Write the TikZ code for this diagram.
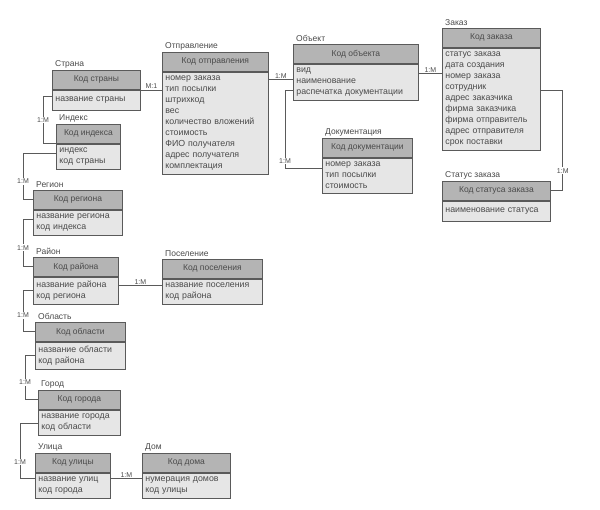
\documentclass[tikz,border=0pt]{standalone}
\usepackage{fontspec}
\setmainfont{Liberation Sans}
\usepackage{xcolor}
\usepackage{tikz}
\usetikzlibrary{positioning,calc}
\definecolor{eLine}{HTML}{5A5A5A}
\definecolor{eText}{HTML}{4A4A4A}
\definecolor{eHead}{HTML}{B4B4B4}
\definecolor{eBody}{HTML}{E6E6E6}
\tikzset{
  ent title/.style={font=\fontsize{8.5}{10}\selectfont, text=eText, inner sep=1pt, anchor=south west},
  ent head/.style={draw=eLine, fill=eHead, thick, minimum height=19pt, inner sep=2pt, font=\fontsize{8.5}{10}\selectfont, text=eText, anchor=north west},
  ent body/.style={draw=eLine, fill=eBody, thick, minimum height=20pt, inner xsep=3pt, inner ysep=4pt, align=left, font=\fontsize{8.8}{11}\selectfont, text=eText, anchor=north west},
  link/.style={draw=eLine, thick},
  card/.style={font=\fontsize{7}{8}\selectfont, text=eText, fill=white, inner sep=1pt}
}
% #1 name, #2 x, #3 y, #4 width, #5 title, #6 key, #7 fields
\newcommand{\entity}[7]{%
 \node[ent title] (#1-t) at (#2+2,#3-1) {#5};%
 \node[ent head, minimum width=#4pt] (#1-h) at (#2,#3) {#6};%
 \node[ent body, minimum width=#4pt, text width=\dimexpr#4pt-6pt\relax] (#1) at (#1-h.south west) {#7};}

\begin{document}
\begin{tikzpicture}[x=1pt, y=-1pt]
\useasboundingbox (0,0) rectangle (600,510);
% address chain
\entity{strana}{52}{70}{88}{Страна}{Код страны}{название страны}
\entity{indeks}{56}{124}{64}{Индекс}{Код индекса}{индекс\\код страны}
\entity{region}{33}{190}{89}{Регион}{Код региона}{название региона\\код индекса}
\entity{rayon}{33}{257}{85}{Район}{Код района}{название района\\код региона}
\entity{poselenie}{162}{259}{100}{Поселение}{Код поселения}{название поселения\\код района}
\entity{oblast}{35}{322}{90}{Область}{Код области}{название области\\код района}
\entity{gorod}{38}{390}{82}{Город}{Код города}{название города\\код области}
\entity{ulica}{35}{453}{75}{Улица}{Код улицы}{название улиц\\код города}
\entity{dom}{142}{453}{88}{Дом}{Код дома}{нумерация домов\\код улицы}
% orders
\entity{otpr}{162}{52}{106}{Отправление}{Код отправления}{номер заказа\\тип посылки\\штрихкод\\вес\\количество вложений\\стоимость\\ФИО получателя\\адрес получателя\\комплектация}
\entity{obekt}{293}{44}{125}{Объект}{Код объекта}{вид\\наименование\\распечатка документации}
\entity{dokum}{322}{138}{90}{Документация}{Код документации}{номер заказа\\тип посылки\\стоимость}
\entity{zakaz}{442}{28}{98}{Заказ}{Код заказа}{статус заказа\\дата создания\\номер заказа\\сотрудник\\адрес заказчика\\фирма заказчика\\фирма отправитель\\адрес отправителя\\срок поставки}
\entity{status}{442}{181}{108}{Статус заказа}{Код статуса заказа}{наименование статуса}

% connector end points
\coordinate (so) at ($(strana.north east)+(0,1)$);
\coordinate (rp) at ($(rayon.east)+(0,-5)$);
\coordinate (ud) at ($(ulica.north east)+(0,6)$);
\coordinate (oo) at ($(otpr.north east)+(0,8)$);
\coordinate (oz) at ($(obekt.north east)+(0,10)$);

\draw[link] (so) -- node[card, above=1pt] {М:1} (so -| otpr.west);
\draw[link] ($(strana.west)+(0,-4)$) -- ++(-9,0) |- node[card, pos=0.25] {1:М} (indeks-h.south west);
\draw[link] ($(indeks.west)+(0,-4)$) -- ++(-33,0) |- node[card, pos=0.3] {1:М} (region-h.west);
\draw[link] ($(region.west)+(0,-4)$) -- ++(-10,0) |- node[card, pos=0.3] {1:М} (rayon-h.west);
\draw[link] (rp) -- node[card, above=0pt] {1:М} (rp -| poselenie.west);
\draw[link] (rayon.west) -- ++(-10,0) |- node[card, pos=0.3] {1:М} (oblast-h.west);
\draw[link] (oblast.west) -- ++(-10,0) |- node[card, pos=0.3] {1:М} (gorod-h.west);
\draw[link] (gorod.west) -- ++(-18,0) |- node[card, pos=0.35] {1:М} ($(ulica.north west)+(0,6)$);
\draw[link] (ud) -- node[card, above=0pt] {1:М} (ud -| dom.west);
\draw[link] (oo) -- node[card, above=0pt] {1:М} (oo -| obekt.west);
\draw[link] ($(obekt.south west)+(0,-11)$) -- ++(-8,0) |- node[card, pos=0.45] {1:М} ($(dokum.north west)+(0,11)$);
\draw[link] (oz) -- node[card, above=0pt] {1:М} (oz -| zakaz.west);
\draw[link] ($(zakaz.north east)+(0,43)$) -- ++(22,0) |- node[card, pos=0.4] {1:М} (status-h.east);
\end{tikzpicture}
\end{document}
